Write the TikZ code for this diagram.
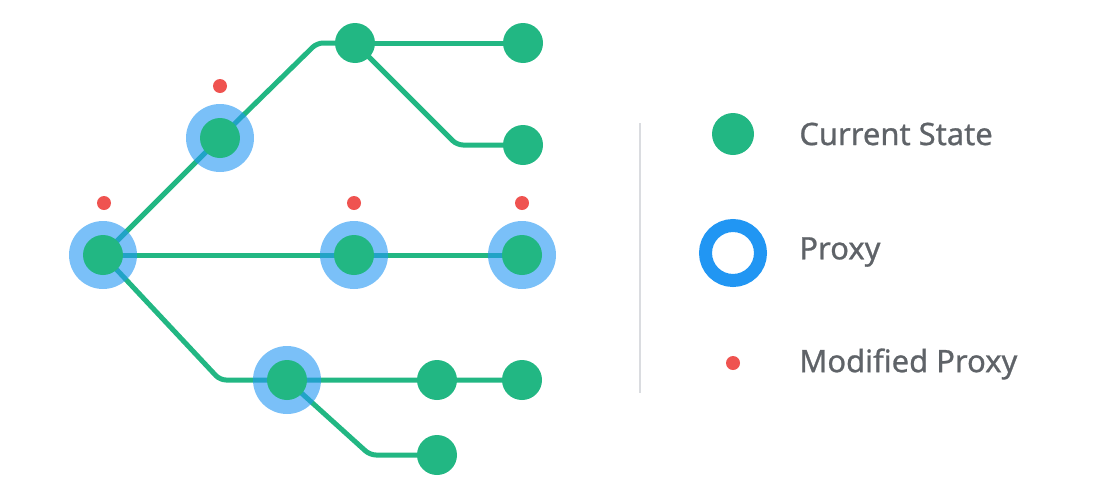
\documentclass[tikz,border=0pt]{standalone}
\usepackage{fontspec}
\setmainfont{Noto Sans}
\newfontfamily\legendfont[FakeBold=0.8]{Noto Sans}
\definecolor{stategreen}{HTML}{22B783}
\definecolor{proxyblue}{HTML}{2196F3}
\definecolor{modred}{HTML}{EF5350}
\definecolor{labelgray}{HTML}{5F6368}
\definecolor{rulegray}{HTML}{DADCE0}
\tikzset{
    state/.style={circle, fill=stategreen, inner sep=0pt, minimum size=0.8cm},
    proxy/.style={circle, fill=proxyblue, fill opacity=0.6, inner sep=0pt, minimum size=1.36cm},
    modified/.style={circle, fill=modred, inner sep=0pt, minimum size=0.28cm},
    edge/.style={stategreen, line width=0.1cm, rounded corners=0.12cm},
    legend/.style={anchor=west, inner sep=0pt, text=labelgray, font=\legendfont\fontsize{17.6}{20}\selectfont}
}
\begin{document}
\begin{tikzpicture}[x=0.02cm, y=-0.02cm]
    \useasboundingbox (0, 0) rectangle (1098, 498);
    \coordinate (root) at (103, 255);
    \coordinate (a) at (220, 138);
    \coordinate (b) at (355, 43);
    \coordinate (c) at (523, 43);
    \coordinate (d) at (523, 145);
    \coordinate (e) at (354, 255);
    \coordinate (f) at (522, 255);
    \coordinate (g) at (287, 380);
    \coordinate (h) at (437, 380);
    \coordinate (i) at (522, 380);
    \coordinate (j) at (437, 455);
    \draw[edge] (root) -- (a) -- (317, 43) -- (b);
    \draw[edge] (b) -- (c);
    \draw[edge] (b) -- (457, 145) -- (d);
    \draw[edge] (root) -- (e) -- (f);
    \draw[edge] (root) -- (220, 380) -- (g) -- (h) -- (i);
    \draw[edge] (g) -- (370, 455) -- (j);
    \foreach \n in {root, a, e, f, g}
        \node[proxy] (p-\n) at (\n) {};
    \foreach \n in {root, a, b, c, d, e, f, g, h, i, j}
        \node[state] (s-\n) at (\n) {};
    \node[modified] (m-root) at (104, 203) {};
    \node[modified] (m-a) at (220, 86) {};
    \node[modified] (m-e) at (354, 203) {};
    \node[modified] (m-f) at (522, 203) {};
    % legend
    \draw[rulegray, line width=0.04cm] (640, 123) -- (640, 393);
    \node[state, minimum size=0.84cm] (key-state) at (733, 134) {};
    \node[circle, draw=proxyblue, line width=0.26cm, minimum size=1.1cm, inner sep=0pt] (key-proxy) at (733, 253) {};
    \node[modified] (key-mod) at (733, 363) {};
    \node[legend] at (799, 134) {Current State};
    \node[legend] at (799, 252) {Proxy};
    \node[legend] at (799, 364) {Modified Proxy};
\end{tikzpicture}
\end{document}
